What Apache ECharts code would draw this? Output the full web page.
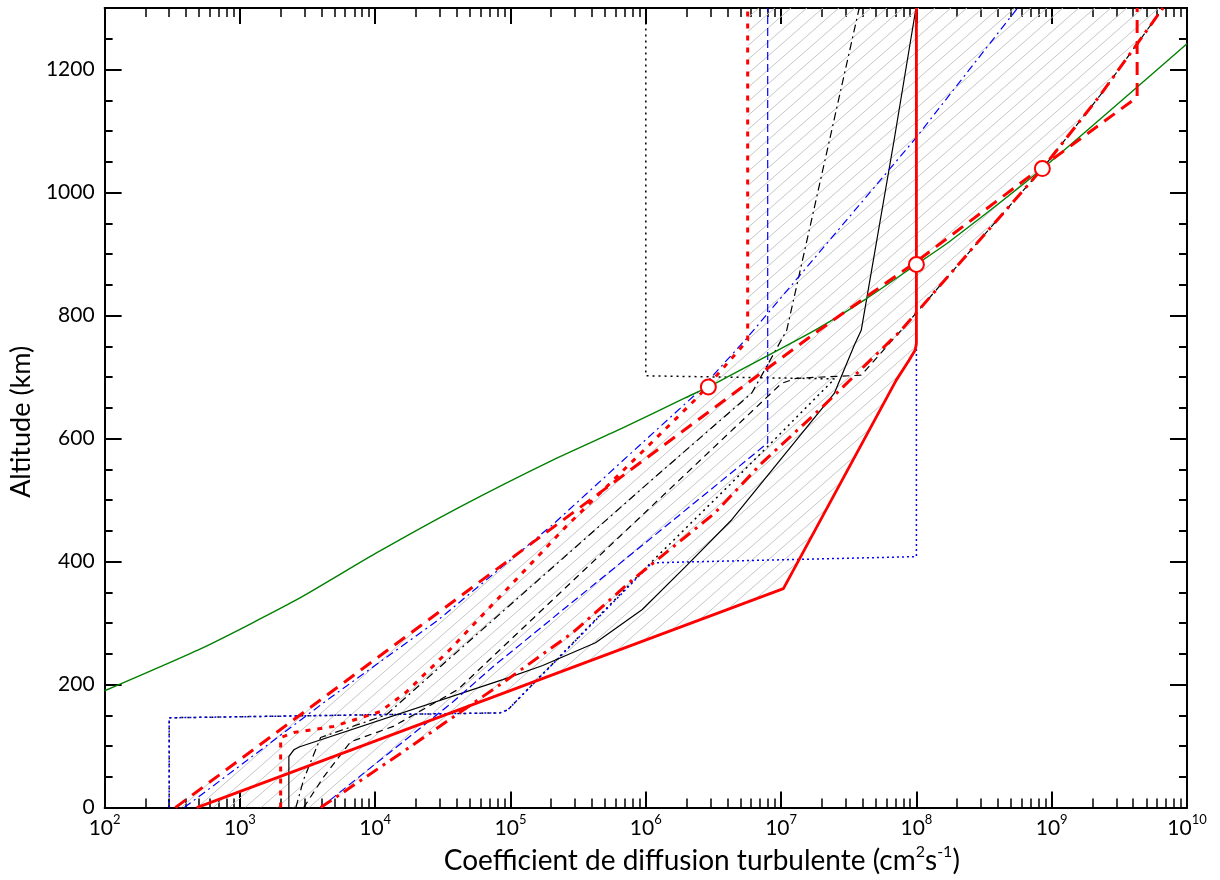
<!DOCTYPE html>
<html><head><meta charset="utf-8">
<script src="https://cdn.jsdelivr.net/npm/echarts@6/dist/echarts.min.js"></script>
<style>html,body{margin:0;padding:0;background:#fff}#c{width:1220px;height:880px}</style>
</head><body><div id="c"></div>
<script>
// ---- data: [K (cm2 s-1), altitude (km)] ----
const xTickExponents = [2,3,4,5,6,7,8,9,10];
const yTickLabels = [0,200,400,600,800,1000,1200];

const green = [[1.0e2,190],[5.45e2,261],[2.63e3,338],[1.02e4,414],[4.24e4,489],[2.05e5,565],[6.70e5,617],[1.95e6,666],[2.9e6,684],[3.84e6,698],[1.77e7,776],[4.11e7,825],[1.0e8,883],[1.80e8,922],[8.53e8,1039],[1.0e10,1242]];
const redSolid = [[4.8e2,0],[1.04e7,356],[7.1e7,695],[8.8e7,727],[9.8e7,744],[1.0e8,755],[1.0e8,1300]];
const redDashUpper = [[3.33e2,0],[1.77e7,771],[4.11e7,828],[9.9e7,887],[8.53e8,1042],[4.28e9,1155],[4.28e9,1300]];
const redDashDot = [[3.95e3,0],[1.61e4,91],[8.77e4,203],[2.87e5,284],[7.94e5,370],[3.24e6,479],[7.19e6,560],[1.99e7,650],[7.71e7,776],[2.52e8,906],[8.53e8,1039],[2.28e9,1158],[6.64e9,1300]];
const redDot = [[2.0e3,0],[2.0e3,114],[2.5e3,122],[4.92e3,132],[1.09e4,156],[1.70e4,188],[3.57e4,257],[5.46e4,300],[2.55e5,456],[2.39e6,666],[5.66e6,760],[5.66e6,1300]];
const blueDashDot = [[3.88e2,0],[4.68e3,179],[2.92e4,305],[2.05e5,460],[9.42e5,593],[2.39e6,674],[5.57e6,763],[9.6e7,1085],[5.6e8,1300]];
const blueDash = [[3.95e3,0],[3.76e4,172],[7.41e4,229],[4.11e6,541],[7.96e6,593],[7.96e6,1300]];
const blueDot = [[3.0e2,0],[3.0e2,146],[8.34e4,154],[9.55e4,159],[2.31e5,245],[1.11e6,398],[1.0e8,408],[1.0e8,1300]];
const blackSolid = [[2.3e3,0],[2.3e3,83],[2.5e3,94],[2.77e3,99],[8.77e4,208],[1.73e5,231],[4.25e5,268],[9.42e5,322],[1.95e6,391],[4.32e6,468],[1.01e7,568],[2.48e7,674],[3.48e7,752],[3.91e7,776],[6.84e7,1085],[9.93e7,1300]];
const blackDashDot = [[2.59e3,0],[2.96e3,46],[3.95e3,114],[1.21e4,151],[3.02e4,229],[1.11e6,533],[6.07e6,674],[8.09e6,723],[1.10e7,776],[3.78e7,1300]];
const blackDash = [[2.96e3,0],[4.16e3,50],[6.57e3,107],[1.36e4,132],[4.09e4,192],[1.01e7,690],[1.30e7,698],[3.91e7,703],[7.71e7,776],[2.52e8,906],[8.53e8,1039],[2.28e9,1158],[6.64e9,1300]];
const blackDot = [[3.0e2,0],[3.0e2,146],[8.34e4,154],[9.55e4,159],[1.11e6,400],[4.18e6,525],[2.48e7,697],[1.0e6,702],[1.0e6,1300]];
const homopauseCircles = [[2.9e6,684],[1.0e8,883],[8.53e8,1039]];

// ---- hatched envelope (between leftmost and rightmost red profiles) ----
function logKAt(profile, alt){
  for (let i=0;i<profile.length-1;i++){
    const k0=profile[i][0], a0=profile[i][1], k1=profile[i+1][0], a1=profile[i+1][1];
    if (a1>a0 && alt>=a0 && alt<=a1){
      const t=(alt-a0)/(a1-a0);
      return Math.log10(k0)+t*(Math.log10(k1)-Math.log10(k0));
    }
  }
  return NaN;
}
const hatchPolygon = (function(){
  const set = new Set();
  for (let a=0;a<=1300;a+=2) set.add(a);
  [redSolid,redDashUpper,redDashDot,redDot].forEach(p=>p.forEach(q=>set.add(q[1])));
  const alts = Array.from(set).sort((a,b)=>a-b);
  const left = alts.map(a=>[Math.pow(10,Math.min(logKAt(redDashUpper,a),logKAt(redDot,a))),a]);
  const right = alts.map(a=>[Math.pow(10,Math.max(logKAt(redSolid,a),logKAt(redDashDot,a))),a]).reverse();
  return left.concat(right);
})();

function makeHatch(){
  const W=16,H=14;
  const c=document.createElement('canvas'); c.width=W; c.height=H;
  const ctx=c.getContext('2d');
  ctx.strokeStyle='#c6c6c6'; ctx.lineWidth=1;
  ctx.beginPath(); ctx.moveTo(-W,2*H); ctx.lineTo(2*W,-H); ctx.stroke();
  return {image:c, repeat:'repeat'};
}
const hatchFill = makeHatch();

const FONT='Lato';
function lineSeries(data,color,width,type,z){
  return {type:'line',data:data,showSymbol:false,symbol:'none',animation:false,clip:true,z:z||2,
    lineStyle:{color:color,width:width,type:type},emphasis:{disabled:true},silent:true};
}

const chart = echarts.init(document.getElementById('c'), null, {renderer:'canvas', width:1220, height:880});
const axisLineStyle={color:'#000',width:2};
function xAx(pos,show){
  return {type:'log',logBase:10,min:100,max:1e10,interval:1,splitNumber:8,position:pos,
    axisLine:{show:true,onZero:false,lineStyle:axisLineStyle},
    axisTick:{show:true,inside:true,length:16,lineStyle:{color:'#000',width:2}},
    minorTick:{show:true,splitNumber:9,length:9,lineStyle:{color:'#000',width:1.5}},
    splitLine:{show:false},minorSplitLine:{show:false},
    axisLabel:{show:show,margin:6,formatter:function(v){return '{b|10}{s|'+Math.round(Math.log10(v))+'}';},
      rich:{b:{fontSize:21,fontFamily:FONT,color:'#000',lineHeight:30},s:{fontSize:13,fontFamily:FONT,color:'#000',verticalAlign:'top',lineHeight:14}}},
    name: show ? '{t|Coefficient de diffusion turbulente (cm}{s|2}{t|s}{s|-1}{t|)}' : '',
    nameLocation:'middle',nameGap:34,
    nameTextStyle:{padding:[0,0,0,112],rich:{t:{fontSize:28,fontFamily:FONT,color:'#000',lineHeight:34},s:{fontSize:16,fontFamily:FONT,color:'#000',verticalAlign:'top',lineHeight:17}}}
  };
}
function yAx(pos,interval,len,show){
  return {type:'value',min:0,max:1300,interval:interval,position:pos,
    axisLine:{show:true,onZero:false,lineStyle:axisLineStyle},
    axisTick:{show:true,inside:true,length:len,lineStyle:{color:'#000',width:2}},
    splitLine:{show:false},
    axisLabel:{show:show,margin:10,fontSize:21,fontFamily:FONT,color:'#000',
      formatter:function(v){return yTickLabels.indexOf(v)>=0?String(v):'';}},
    name: show ? 'Altitude (km)' : '', nameLocation:'middle', nameGap:62, nameRotate:90,
    nameTextStyle:{fontSize:27,fontFamily:FONT,color:'#000',padding:[0,28,0,0]}
  };
}

chart.setOption({
  animation:false,
  backgroundColor:'#fff',
  textStyle:{fontFamily:FONT},
  grid:{left:100,right:33,top:8,bottom:72,containLabel:false},
  xAxis:[xAx('bottom',true),xAx('top',false)],
  yAxis:[yAx('left',200,17,true),yAx('left',50,8,false),yAx('right',200,17,false),yAx('right',50,8,false)],
  series:[
    {type:'custom',silent:true,clip:true,z:1,animation:false,data:[hatchPolygon[0]],
      renderItem:function(params,api){
        const pts=hatchPolygon.map(p=>api.coord(p));
        return {type:'polygon',shape:{points:pts},style:{fill:hatchFill,stroke:null}};
      }},
    lineSeries(blackDot,'#000',1.5,[2,4],2),
    lineSeries(blueDot,'#0000ff',1.5,[2,3],2),
    lineSeries(blackDash,'#000',1.2,[7,5],2),
    lineSeries(blackDashDot,'#000',1.2,[8,4,2,4],2),
    lineSeries(blackSolid,'#000',1.2,'solid',2),
    lineSeries(blueDash,'#0000ff',1.2,[8,4],3),
    lineSeries(blueDashDot,'#0000ff',1.2,[8,4,2,4],3),
    Object.assign(lineSeries(green,'#008000',1.4,'solid',4),{smooth:0.2}),
    lineSeries(redDot,'#ff0000',3,[5,7],5),
    lineSeries(redDashDot,'#ff0000',3,[13,6,3,6],5),
    lineSeries(redDashUpper,'#ff0000',3,[13,8],5),
    lineSeries(redSolid,'#ff0000',2.8,'solid',5),
    {type:'scatter',data:homopauseCircles,symbol:'circle',symbolSize:15,z:6,silent:true,animation:false,
      itemStyle:{color:'#fff',borderColor:'#ff0000',borderWidth:2,opacity:1}}
  ]
});
</script>
</body></html>
